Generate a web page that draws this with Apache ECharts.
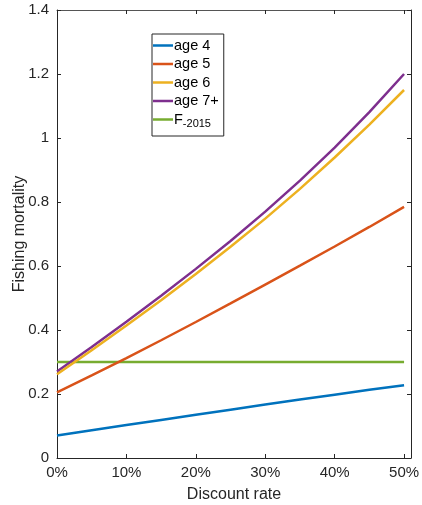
<!DOCTYPE html>
<html><head><meta charset="utf-8">
<script src="https://cdn.jsdelivr.net/npm/echarts@6/dist/echarts.min.js"></script>
<style>html,body{margin:0;padding:0;background:#fff}#c{width:422px;height:505px}</style>
</head><body><div id="c"></div>
<script>
var rates = [0, 5, 10, 15, 20, 25, 30, 35, 40, 45, 50];
var age4 = [0.07, 0.087, 0.103, 0.119, 0.135, 0.151, 0.167, 0.183, 0.198, 0.213, 0.227];
var age5 = [0.205, 0.258, 0.312, 0.368, 0.425, 0.483, 0.542, 0.601, 0.661, 0.722, 0.785];
var age6 = [0.262, 0.337, 0.414, 0.493, 0.575, 0.66, 0.748, 0.841, 0.939, 1.042, 1.15];
var age7 = [0.27, 0.347, 0.426, 0.507, 0.591, 0.678, 0.77, 0.867, 0.97, 1.081, 1.2];
var f2015 = [0.3, 0.3, 0.3, 0.3, 0.3, 0.3, 0.3, 0.3, 0.3, 0.3, 0.3];
var seriesNames = ['age 4', 'age 5', 'age 6', 'age 7+', 'F-2015'];
var colors = ['#0072BD', '#D95319', '#EDB120', '#7E2F8E', '#77AC30'];
var yTicks = [0, 0.2, 0.4, 0.6, 0.8, 1, 1.2, 1.4];
var xTicks = [0, 10, 20, 30, 40, 50];

function pairs(v) { return rates.map(function (r, i) { return [r, v[i]]; }); }
var all = [age4, age5, age6, age7, f2015];
var axisCol = '#262626';
var font = 'Liberation Sans, Arial, Helvetica, sans-serif';

var chart = echarts.init(document.getElementById('c'), null, { renderer: 'canvas' });
chart.setOption({
  animation: false,
  color: colors,
  textStyle: { fontFamily: font },
  grid: { left: 57, top: 10, right: 11, bottom: 47, containLabel: false, outerBoundsMode: 'none' },
  legend: {
    orient: 'vertical', left: 152, top: 34,
    data: seriesNames.map(function (n) { return { name: n, icon: 'rect' }; }),
    itemWidth: 20, itemHeight: 2.5, itemGap: 3.5,
    borderColor: '#262626', borderWidth: 1,
    padding: [4, 5, 7, 1],
    backgroundColor: '#fff',
    textStyle: {
      fontSize: 14.5, color: '#000', padding: [0, 0, 0, -4],
      rich: { sub: { fontSize: 11, verticalAlign: 'bottom', padding: [8, 0, 0, 0], color: '#000' } }
    },
    formatter: function (n) { return n === 'F-2015' ? 'F{sub|-2015}' : n; }
  },
  xAxis: [{
    type: 'value', min: 0, max: 51, interval: 10,
    name: 'Discount rate', nameLocation: 'middle', nameGap: 29, nameMoveOverlap: false,
    nameTextStyle: { fontSize: 16, color: axisCol },
    axisLine: { show: true, lineStyle: { color: axisCol } },
    axisTick: { show: true, inside: true, length: 4, lineStyle: { color: axisCol },
      customValues: xTicks },
    axisLabel: { fontSize: 15, color: axisCol, margin: 7,
      customValues: xTicks,
      formatter: function (v) { return v + '%'; } },
    splitLine: { show: false }
  }, {
    type: 'value', min: 0, max: 51, interval: 10, position: 'top',
    axisLine: { show: true, onZero: false, lineStyle: { color: '#555' } },
    axisTick: { show: true, inside: true, length: 4, lineStyle: { color: axisCol }, customValues: xTicks },
    axisLabel: { show: false }, splitLine: { show: false }
  }],
  yAxis: [{
    type: 'value', min: 0, max: 1.4, interval: 0.2,
    name: 'Fishing mortality', nameLocation: 'middle', nameGap: 29, nameMoveOverlap: false,
    nameTextStyle: { fontSize: 16, color: axisCol },
    axisLine: { show: true, lineStyle: { color: axisCol } },
    axisTick: { show: true, inside: true, length: 4, lineStyle: { color: axisCol } },
    axisLabel: { fontSize: 15, color: axisCol, margin: 8,
      formatter: function (v) { return String(Math.round(v * 10) / 10); } },
    splitLine: { show: false }
  }, {
    type: 'value', min: 0, max: 1.4, interval: 0.2, position: 'right',
    axisLine: { show: true, onZero: false, lineStyle: { color: axisCol } },
    axisTick: { show: true, inside: true, length: 4, lineStyle: { color: axisCol } },
    axisLabel: { show: false }, splitLine: { show: false }
  }],
  series: seriesNames.map(function (n, i) {
    return {
      name: n, type: 'line', data: pairs(all[i]), smooth: false,
      showSymbol: false, symbol: 'none',
      lineStyle: { width: 2.5, color: colors[i] }, z: 10 - i
    };
  })
});
</script></body></html>
